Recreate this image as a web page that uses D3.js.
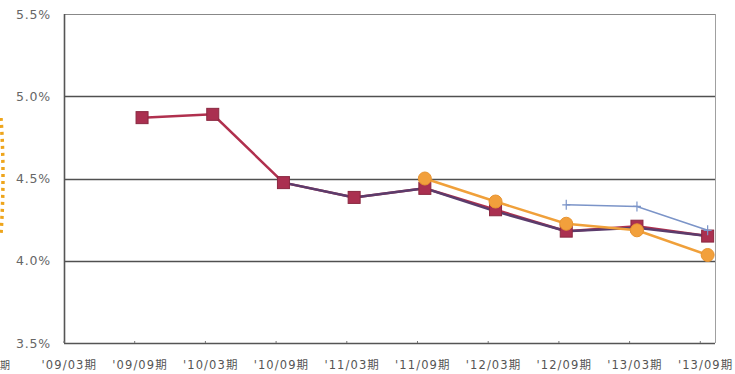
<!DOCTYPE html>
<html>
<head>
<meta charset="utf-8">
<script src="https://cdn.jsdelivr.net/npm/d3@7"></script>
<style>
  html, body { margin: 0; padding: 0; background: #fff; }
  svg { display: block; }
  text { font-family: "DejaVu Sans", "Noto Sans CJK JP", sans-serif; }
</style>
</head>
<body>
<svg id="chart" width="735" height="374"></svg>
<script>
// Fiscal half-year periods on the x axis
const periods = ["'09/03期", "'09/09期", "'10/03期", "'10/09期", "'11/03期", "'11/09期", "'12/03期", "'12/09期", "'13/03期", "'13/09期"];
// Y axis ticks (percent)
const yTicks = [3.5, 4.0, 4.5, 5.0, 5.5];

// Series values in percent; null where the series has no data
const seriesRed    = [null, 4.87, 4.89, 4.475, 4.385, 4.44, 4.31, 4.18, 4.21, 4.15];
const seriesPurple = [null, null, null, 4.475, 4.385, 4.44, 4.30, 4.18, 4.20, 4.15];
const seriesOrange = [null, null, null, null, null, 4.50, 4.36, 4.225, 4.185, 4.035];
const seriesBlue   = [null, null, null, null, null, null, null, 4.34, 4.33, 4.185];

const svg = d3.select("#chart");
const plot = { left: 64, right: 715, top: 14, bottom: 343 };

const x = d3.scalePoint().domain(periods).range([plot.left, plot.right]).padding(0.104);
const y = d3.scaleLinear().domain([3.5, 5.5]).range([plot.bottom, plot.top]);

// Horizontal gridlines
svg.append("g").selectAll("line").data(yTicks.filter(v => v > 3.5 && v < 5.5)).join("line")
  .attr("x1", plot.left).attr("x2", plot.right)
  .attr("y1", d => Math.round(y(d)) + 0.5).attr("y2", d => Math.round(y(d)) + 0.5)
  .attr("stroke", "#505050").attr("stroke-width", 1.4);

// Plot frame
svg.append("line").attr("x1", plot.left).attr("x2", plot.right)
  .attr("y1", plot.top + 0.5).attr("y2", plot.top + 0.5).attr("stroke", "#888");
svg.append("line").attr("x1", plot.right + 0.5).attr("x2", plot.right + 0.5)
  .attr("y1", plot.top).attr("y2", plot.bottom).attr("stroke", "#a0a0a0");
svg.append("line").attr("x1", plot.left + 0.5).attr("x2", plot.left + 0.5)
  .attr("y1", plot.top).attr("y2", plot.bottom).attr("stroke", "#555").attr("stroke-width", 1.6);
svg.append("line").attr("x1", plot.left).attr("x2", plot.right)
  .attr("y1", plot.bottom + 0.5).attr("y2", plot.bottom + 0.5).attr("stroke", "#555").attr("stroke-width", 1.6);

// Small tick marks along the bottom axis, one step apart from the left edge
const step = x.step();
svg.append("g").selectAll("line").data(periods).join("line")
  .attr("x1", (d, i) => plot.left + i * step).attr("x2", (d, i) => plot.left + i * step)
  .attr("y1", plot.bottom - 2).attr("y2", plot.bottom)
  .attr("stroke", "#777");

// Y axis labels
svg.append("g").selectAll("text").data(yTicks).join("text")
  .attr("x", 51).attr("y", d => y(d) + 4.5)
  .attr("text-anchor", "end")
  .attr("font-size", 12.5).attr("letter-spacing", 0.8).attr("fill", "#666")
  .text(d => d.toFixed(1) + "%");

// X axis labels
svg.append("g").selectAll("text").data(periods).join("text")
  .attr("x", d => x(d) - 2).attr("y", 369)
  .attr("text-anchor", "middle")
  .attr("font-size", 11.5).attr("letter-spacing", 1.1).attr("fill", "#555")
  .text(d => d);

// Edge of the neighbouring panel: its last period label and dotted outline
svg.append("text").attr("x", 0).attr("y", 369).attr("text-anchor", "start")
  .attr("font-size", 10).attr("fill", "#555").text("期");
svg.append("path")
  .attr("d", "M1,118 Q5,175 1,234")
  .attr("fill", "none").attr("stroke", "#eea51c").attr("stroke-width", 3.5)
  .attr("stroke-dasharray", "3,4");

const line = d3.line()
  .defined(d => d.v != null)
  .x(d => x(d.p)).y(d => y(d.v));
const pts = arr => arr.map((v, i) => ({ p: periods[i], v }));

// Red series line
svg.append("path").datum(pts(seriesRed)).attr("d", line)
  .attr("fill", "none").attr("stroke", "#b0304e").attr("stroke-width", 2.5);
// Purple series line
svg.append("path").datum(pts(seriesPurple)).attr("d", line)
  .attr("fill", "none").attr("stroke", "#5b3c6c").attr("stroke-width", 2.5);
// Red square markers
const sq = 12;
svg.append("g").selectAll("rect").data(pts(seriesRed).filter(d => d.v != null)).join("rect")
  .attr("x", d => x(d.p) - sq / 2).attr("y", d => y(d.v) - sq / 2)
  .attr("width", sq).attr("height", sq)
  .attr("fill", "#aa3050").attr("stroke", "#8a2840").attr("stroke-width", 1);

// Orange series
svg.append("path").datum(pts(seriesOrange)).attr("d", line)
  .attr("fill", "none").attr("stroke", "#f0a03a").attr("stroke-width", 2.5);
svg.append("g").selectAll("circle").data(pts(seriesOrange).filter(d => d.v != null)).join("circle")
  .attr("cx", d => x(d.p)).attr("cy", d => y(d.v)).attr("r", 6.5)
  .attr("fill", "#f2a03c").attr("stroke", "#e89430");

// Blue series with plus markers
svg.append("path").datum(pts(seriesBlue)).attr("d", line)
  .attr("fill", "none").attr("stroke", "#7b94c8").attr("stroke-width", 1.6);
const plus = pts(seriesBlue).filter(d => d.v != null);
svg.append("g").selectAll("path").data(plus).join("path")
  .attr("d", d => `M${x(d.p) - 4},${y(d.v)}H${x(d.p) + 4}M${x(d.p)},${y(d.v) - 5}V${y(d.v) + 5}`)
  .attr("stroke", "#7b94c8").attr("stroke-width", 1.2).attr("fill", "none");
</script>
</body>
</html>
